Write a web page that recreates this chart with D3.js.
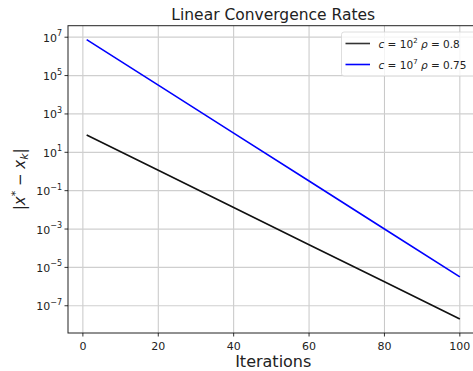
<!DOCTYPE html>
<html>
<head>
<meta charset="utf-8">
<script src="https://cdn.jsdelivr.net/npm/d3@7"></script>
<style>
  body { margin: 0; background: #fff; }
  text { font-family: "DejaVu Sans", sans-serif; }
</style>
</head>
<body>
<svg id="chart" width="473" height="371"></svg>
<script>
// values
var iterations = [1, 20, 40, 60, 80, 100];
var errBlack = [80, 1.15, 1.33e-2, 1.53e-4, 1.77e-6, 2.04e-8];
var errBlue = [7.5e6, 3.17e4, 1.0e2, 0.318, 1.0e-3, 3.2e-6];
var xTicks = [0, 20, 40, 60, 80, 100];
var yTickExp = [-7, -5, -3, -1, 1, 3, 5, 7];
var legendLabels = [["10", "2", "0.8"], ["10", "7", "0.75"]];
var colors = ["#111111", "#0000ff"];

var svg = d3.select("#chart");
// plot area edges (note: "top" is reserved on window, so use pTop)
var pLeft = 68, pRight = 478.5, pTop = 25.7, pBottom = 333;

var x = d3.scaleLinear().domain([-3.95, 104.95]).range([pLeft, pRight]);
var y = d3.scaleLog().domain([Math.pow(10, -8.42), Math.pow(10, 7.6)]).range([pBottom, pTop]);

// grid
svg.append("g").selectAll("line").data(xTicks).enter().append("line")
  .attr("x1", d => x(d)).attr("x2", d => x(d))
  .attr("y1", pTop).attr("y2", pBottom)
  .attr("stroke", "#b8b8b8").attr("stroke-width", 0.8);
svg.append("g").selectAll("line").data(yTickExp).enter().append("line")
  .attr("x1", pLeft).attr("x2", pRight)
  .attr("y1", d => y(Math.pow(10, d))).attr("y2", d => y(Math.pow(10, d)))
  .attr("stroke", "#cfcfcf").attr("stroke-width", 1.2);

// lines
var line = d3.line().x(d => x(d[0])).y(d => y(d[1]));
[errBlack, errBlue].forEach(function(s, i) {
  svg.append("path")
    .datum(iterations.map((k, j) => [k, s[j]]))
    .attr("d", line)
    .attr("fill", "none")
    .attr("stroke", colors[i])
    .attr("stroke-width", 1.6);
});

// spines
svg.append("rect").attr("x", pLeft).attr("y", pTop)
  .attr("width", pRight - pLeft).attr("height", pBottom - pTop)
  .attr("fill", "none").attr("stroke", "#222").attr("stroke-width", 1);

// x ticks
var xg = svg.append("g");
xTicks.forEach(function(t) {
  xg.append("line").attr("x1", x(t)).attr("x2", x(t))
    .attr("y1", pBottom).attr("y2", pBottom + 3.5).attr("stroke", "#000").attr("stroke-width", 0.8);
  xg.append("text").attr("x", x(t)).attr("y", pBottom + 17)
    .attr("text-anchor", "middle").attr("font-size", 11).attr("fill", "#222").text(t);
});

// y ticks
var yg = svg.append("g");
yTickExp.forEach(function(e) {
  var py = y(Math.pow(10, e));
  yg.append("line").attr("x1", pLeft - 3.5).attr("x2", pLeft)
    .attr("y1", py).attr("y2", py).attr("stroke", "#000").attr("stroke-width", 0.8);
  var t = yg.append("text").attr("x", pLeft - 6).attr("y", py + 4.5)
    .attr("text-anchor", "end").attr("font-size", 11).attr("fill", "#222");
  t.append("tspan").text("10");
  t.append("tspan").attr("dy", -5.5).attr("font-size", 8).text(e < 0 ? "\u2212" + (-e) : e);
});

// title and axis labels
var cx = (pLeft + pRight) / 2;
svg.append("text").attr("x", cx).attr("y", 20)
  .attr("text-anchor", "middle").attr("font-size", 15.5).attr("fill", "#222")
  .text("Linear Convergence Rates");
svg.append("text").attr("x", cx).attr("y", 367)
  .attr("text-anchor", "middle").attr("font-size", 16).attr("fill", "#222")
  .text("Iterations");
var yl = svg.append("text").attr("transform", "translate(25," + ((pTop + pBottom) / 2) + ") rotate(-90)")
  .attr("text-anchor", "middle").attr("font-size", 15).attr("fill", "#222");
yl.append("tspan").text("|");
yl.append("tspan").attr("font-style", "italic").text("x");
yl.append("tspan").attr("dy", -6).attr("font-size", 11).text("*");
yl.append("tspan").attr("dy", 6).text(" \u2212 ");
yl.append("tspan").attr("font-style", "italic").text("x");
yl.append("tspan").attr("dy", 3).attr("font-size", 11).attr("font-style", "italic").text("k");
yl.append("tspan").attr("dy", -3).text("|");

// legend
var lg = svg.append("g");
lg.append("rect").attr("x", 341.5).attr("y", 32).attr("width", 140).attr("height", 44)
  .attr("rx", 2.5).attr("fill", "#fff").attr("fill-opacity", 0.8)
  .attr("stroke", "#d6d6d6").attr("stroke-width", 0.8);
legendLabels.forEach(function(l, i) {
  var ly = 43.5 + i * 21;
  lg.append("line").attr("x1", 345.5).attr("x2", 370).attr("y1", ly).attr("y2", ly)
    .attr("stroke", colors[i] === "#111111" ? "#333" : colors[i]).attr("stroke-width", 1.6);
  var t = lg.append("text").attr("x", 378.5).attr("y", ly + 4).attr("font-size", 10.5).attr("fill", "#222");
  t.append("tspan").attr("font-style", "italic").text("c");
  t.append("tspan").text(" = " + l[0]);
  t.append("tspan").attr("dy", -4.5).attr("font-size", 7).text(l[1]);
  t.append("tspan").attr("dy", 4.5).attr("font-style", "italic").text(" \u03c1");
  t.append("tspan").text(" = " + l[2]);
});
</script>
</body>
</html>
